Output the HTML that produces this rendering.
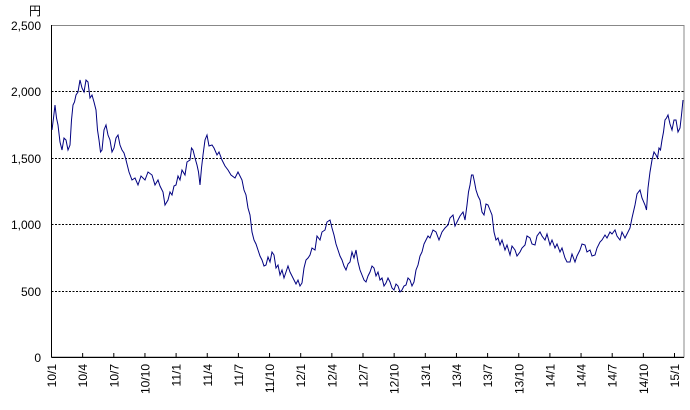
<!DOCTYPE html>
<html><head><meta charset="utf-8"><style>
html,body{margin:0;padding:0;background:#fff;}
svg{display:block;font-family:"Liberation Sans","Noto Sans CJK JP",sans-serif;}
</style></head><body>
<svg width="690" height="410" xmlns="http://www.w3.org/2000/svg">
<rect x="0" y="0" width="690" height="410" fill="#fff"/>
<g stroke="#000" stroke-width="1" stroke-dasharray="2,1.5">
<line x1="51.5" y1="91.5" x2="684" y2="91.5"/>
<line x1="51.5" y1="158.5" x2="684" y2="158.5"/>
<line x1="51.5" y1="224.5" x2="684" y2="224.5"/>
<line x1="51.5" y1="291.5" x2="684" y2="291.5"/>
</g>
<rect x="51.5" y="25.5" width="632.5" height="331.5" fill="none" stroke="#888" stroke-width="1"/>
<line x1="51.5" y1="25" x2="51.5" y2="357.5" stroke="#000"/>
<line x1="51.5" y1="357.5" x2="684" y2="357.5" stroke="#000"/>
<g font-size="12" fill="#000" text-anchor="end">
<text x="41" y="30">2,500</text>
<text x="41" y="96">2,000</text>
<text x="41" y="163">1,500</text>
<text x="41" y="229">1,000</text>
<text x="41" y="296">500</text>
<text x="41" y="362">0</text>
<text x="41" y="15">円</text>
</g>
<g stroke="#000">
<line x1="82.65" y1="357" x2="82.65" y2="353"/><line x1="113.8" y1="357" x2="113.8" y2="353"/><line x1="144.95" y1="357" x2="144.95" y2="353"/><line x1="176.1" y1="357" x2="176.1" y2="353"/><line x1="207.25" y1="357" x2="207.25" y2="353"/><line x1="238.4" y1="357" x2="238.4" y2="353"/><line x1="269.55" y1="357" x2="269.55" y2="353"/><line x1="300.7" y1="357" x2="300.7" y2="353"/><line x1="331.85" y1="357" x2="331.85" y2="353"/><line x1="363" y1="357" x2="363" y2="353"/><line x1="394.15" y1="357" x2="394.15" y2="353"/><line x1="425.3" y1="357" x2="425.3" y2="353"/><line x1="456.45" y1="357" x2="456.45" y2="353"/><line x1="487.6" y1="357" x2="487.6" y2="353"/><line x1="518.75" y1="357" x2="518.75" y2="353"/><line x1="549.9" y1="357" x2="549.9" y2="353"/><line x1="581.05" y1="357" x2="581.05" y2="353"/><line x1="612.2" y1="357" x2="612.2" y2="353"/><line x1="643.35" y1="357" x2="643.35" y2="353"/><line x1="674.5" y1="357" x2="674.5" y2="353"/>
</g>
<g font-size="12" fill="#000" text-anchor="end">
<text transform="translate(56,364) rotate(-90)">10/1</text>
<text transform="translate(87.15,364) rotate(-90)">10/4</text>
<text transform="translate(118.3,364) rotate(-90)">10/7</text>
<text transform="translate(149.45,364) rotate(-90)">10/10</text>
<text transform="translate(180.6,364) rotate(-90)">11/1</text>
<text transform="translate(211.75,364) rotate(-90)">11/4</text>
<text transform="translate(242.9,364) rotate(-90)">11/7</text>
<text transform="translate(274.05,364) rotate(-90)">11/10</text>
<text transform="translate(305.2,364) rotate(-90)">12/1</text>
<text transform="translate(336.35,364) rotate(-90)">12/4</text>
<text transform="translate(367.5,364) rotate(-90)">12/7</text>
<text transform="translate(398.65,364) rotate(-90)">12/10</text>
<text transform="translate(429.8,364) rotate(-90)">13/1</text>
<text transform="translate(460.95,364) rotate(-90)">13/4</text>
<text transform="translate(492.1,364) rotate(-90)">13/7</text>
<text transform="translate(523.25,364) rotate(-90)">13/10</text>
<text transform="translate(554.4,364) rotate(-90)">14/1</text>
<text transform="translate(585.55,364) rotate(-90)">14/4</text>
<text transform="translate(616.7,364) rotate(-90)">14/7</text>
<text transform="translate(647.85,364) rotate(-90)">14/10</text>
<text transform="translate(679,364) rotate(-90)">15/1</text>
</g>
<polyline fill="none" stroke="#000080" stroke-width="1" points="52,130 53.5,118 55,105 56.5,118 58,125 60,142 62,150 64,138 66,140 68,150 70,145 71.5,120 73,105 74.5,102 76,95 78,92 80,80 82,88 84,92 86,80 88,82 90,98 92,95 94,102 96,110 97.5,130 99,140 100.5,152 102,150 104,130 106,125 108,135 110,140 112,152 114,148 116,138 118,135 120,145 122,150 124,153 126,160 129,172 132,180 135,178 138,185 141,176 145,180 148,172 152,175 155,185 158,180 160,186 163,192 165,205 168,200 170,192 172,195 174,186 176,185 178,176 180,180 182,170 185,175 187,162 190,160 191.5,148 193,150 195,158 197,165 198.5,172 200,185 201.5,168 203,155 205,140 207,135 209,146 212,145 214,148 217,155 219,152 222,160 225,166 228,170 231,175 235,178 238,172 242,180 244,190 246,195 248,208 250,215 252,232 254,240 256,244 258,250 260,256 262,260 264,266 266,265 268,257 270,262 272,252 274,255 276,268 278,265 280,275 282,270 284,278 286,272 288,266 290,272 292,276 294,280 296,284 298,280 300,286 302,283 304,268 306,260 308,258 310,255 312,248 315,250 317,236 320,240 322,232 325,230 327,222 330,220 332,228 334,235 336,244 338,250 340,256 342,260 344,266 346,270 348,264 350,262 352,252 354,258 356,250 358,262 360,270 362,275 364,280 366,282 368,276 370,272 372,266 374,268 376,276 378,272 380,280 382,278 384,286 386,283 388,278 390,282 392,288 394,290 396,284 398,286 400,292 402,290 404,286 406,285 408,278 410,280 412,286 414,282 416,270 418,265 420,256 422,252 424,244 426,240 428,236 430,238 433,230 436,232 439,240 442,232 445,228 448,225 450,218 453,215 455,226 458,220 460,216 463,212 465,220 467,205 468.5,192 470,185 471.5,175 473,175 474.5,182 476,190 478,196 480,200 482,212 484,215 486,204 488,205 490,210 492,215 494,232 496,240 498,238 500,245 502,240 505,250 507,245 510,255 512,246 515,250 517,256 520,252 522,248 525,245 527,236 530,238 532,244 535,245 537,236 540,232 542,236 545,240 547,234 550,245 552,240 555,248 557,244 560,252 562,248 565,258 567,262 570,262 572,254 575,262 577,256 580,250 582,244 585,245 587,252 590,250 592,256 595,255 597,248 600,242 602,240 605,235 607,238 610,232 612,234 615,230 617,236 620,240 622,232 625,238 627,234 630,228 632,218 635,205 637,194 640,190 642,198 645,205 646.5,210 648,188 650,172 652,160 654,152 656,155 657.5,158 659,148 660.5,150 662,140 663.5,132 665,120 666.5,118 668,115 670,124 672,130 674,120 676,120 678,132 680,128 681.5,115 683,100"/>
</svg>
</body></html>
